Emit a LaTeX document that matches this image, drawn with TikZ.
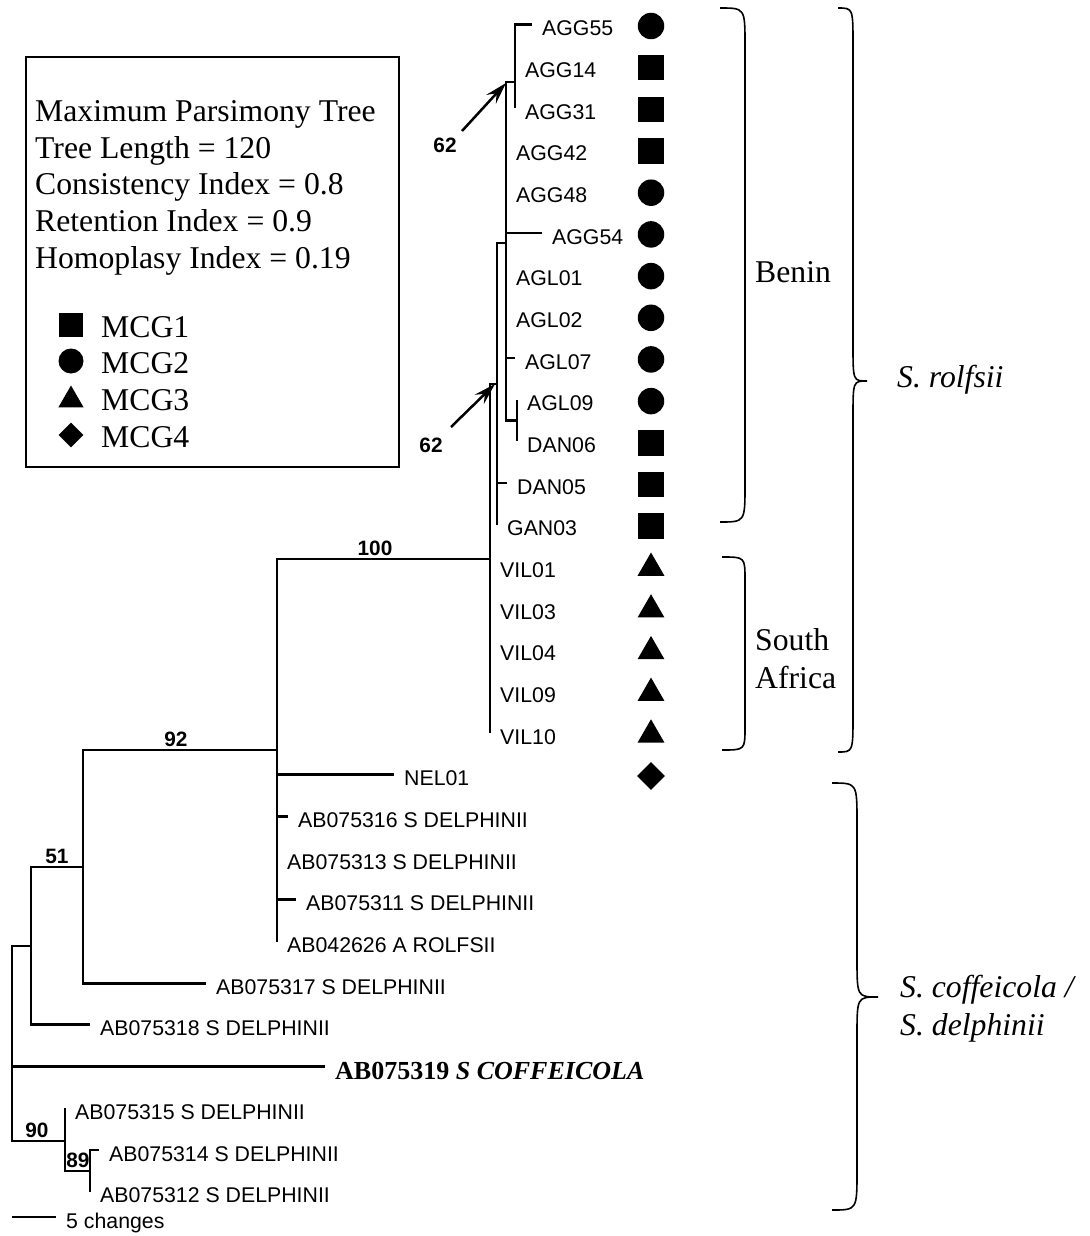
\documentclass[tikz,border=0pt]{standalone}
\usepackage{fontspec}
\setmainfont{Liberation Serif}
\setsansfont{Liberation Sans}
\usetikzlibrary{arrows.meta,shapes.geometric}

\newcommand{\tipfont}{\sffamily\fontsize{21.3}{25}\selectfont}
\newcommand{\suppfont}{\sffamily\bfseries\fontsize{20.8}{24}\selectfont}
\newcommand{\bigserif}{\rmfamily\fontsize{31.7}{38}\selectfont}

\tikzset{
  branch/.style={line width=2.8pt},
  tip/.style={anchor=west, inner xsep=10pt, inner ysep=0pt, font=\tipfont,
    text height=22.3pt, text depth=0pt},
  supp/.style={font=\suppfont, inner sep=0pt},
  pointer/.style={line width=2.5pt, -{Stealth[length=22pt,width=13pt,inset=8pt]}},
  mcgone/.style={rectangle, fill=black, minimum size=25.5pt, inner sep=0pt},
  mcgtwo/.style={circle, fill=black, minimum size=26.5pt, inner sep=0pt},
  mcgthree/.style={regular polygon, regular polygon sides=3, fill=black,
    minimum size=31pt, inner sep=0pt},
  mcgfour/.style={diamond, fill=black, minimum size=28pt, inner sep=0pt},
  region/.style={font=\bigserif, anchor=west, inner sep=0pt, align=left},
  curly/.style={line width=1.6pt},
}

\begin{document}
\begin{tikzpicture}[x=1pt, y=-1pt]
  \fill[white] (0,0) rectangle (1089,1236);
  \useasboundingbox (0,0) rectangle (1089,1236);

  % internal nodes of the tree
  \coordinate (n515) at (515,82);
  \coordinate (n506) at (506,243);
  \coordinate (n517) at (517,420.5);
  \coordinate (n497) at (497,384);
  \coordinate (n490) at (490,559);
  \coordinate (n92) at (277,750);
  \coordinate (nA) at (83,867);
  \coordinate (nB) at (31,946);
  \coordinate (root) at (12,1066.5);
  \coordinate (nC) at (65,1141);
  \coordinate (nD) at (90,1171);

  % tips
  \node[tip] (AGG55) at (532,24.5) {AGG55};
  \node[tip] (AGG14) at (515,66.2) {AGG14};
  \node[tip] (AGG31) at (515,107.9) {AGG31};
  \node[tip] (AGG42) at (506,149.5) {AGG42};
  \node[tip] (AGG48) at (506,191.2) {AGG48};
  \node[tip] (AGG54) at (542,232.9) {AGG54};
  \node[tip] (AGL01) at (506,274.6) {AGL01};
  \node[tip] (AGL02) at (506,316.3) {AGL02};
  \node[tip] (AGL07) at (515,357.9) {AGL07};
  \node[tip] (AGL09) at (517,399.6) {AGL09};
  \node[tip] (DAN06) at (517,441.3) {DAN06};
  \node[tip] (DAN05) at (507,483.0) {DAN05};
  \node[tip] (GAN03) at (497,524.7) {GAN03};
  \node[tip] (VIL01) at (490,566.3) {VIL01};
  \node[tip] (VIL03) at (490,608.0) {VIL03};
  \node[tip] (VIL04) at (490,649.7) {VIL04};
  \node[tip] (VIL09) at (490,691.4) {VIL09};
  \node[tip] (VIL10) at (490,733.1) {VIL10};
  \node[tip] (NEL01) at (394,774.7) {NEL01};
  \node[tip] (AB075316) at (288,816.4) {AB075316 S DELPHINII};
  \node[tip] (AB075313) at (277,858.1) {AB075313 S DELPHINII};
  \node[tip] (AB075311) at (296,899.8) {AB075311 S DELPHINII};
  \node[tip] (AB042626) at (277,941.5) {AB042626 A ROLFSII};
  \node[tip] (AB075317) at (206,983.1) {AB075317 S DELPHINII};
  \node[tip] (AB075318) at (90,1024.8) {AB075318 S DELPHINII};
  \node[tip, font=\rmfamily\bfseries\fontsize{26}{31}\selectfont, text height=25pt]
    (AB075319) at (325,1066.5) {AB075319 \textit{S COFFEICOLA}};
  \node[tip] (AB075315) at (65,1108.2) {AB075315 S DELPHINII};
  \node[tip] (AB075314) at (99,1149.9) {AB075314 S DELPHINII};
  \node[tip] (AB075312) at (90,1191.5) {AB075312 S DELPHINII};

  % branches
  \draw[branch] (n515) |- (AGG55.west) (n515) |- (AGG14.west) (n515) |- (AGG31.west);
  \draw[branch] (n506) |- (n515) (n506) |- (AGG42.west) (n506) |- (AGG48.west)
    (n506) |- (AGG54.west) (n506) |- (AGL01.west) (n506) |- (AGL02.west)
    (n506) |- (AGL07.west) (n506) |- (n517);
  \draw[branch] (n517) |- (AGL09.west) (n517) |- (DAN06.west);
  \draw[branch] (n497) |- (n506) (n497) |- (DAN05.west) (n497) |- (GAN03.west);
  \draw[branch] (n490) |- (n497) (n490) |- (VIL01.west) (n490) |- (VIL10.west);
  \draw[branch] (n92) |- (n490) (n92) |- (NEL01.west) (n92) |- (AB075316.west)
    (n92) |- (AB075311.west) (n92) |- (AB042626.west);
  \draw[branch] (nA) |- (n92) (nA) |- (AB075317.west);
  \draw[branch] (nB) |- (nA) (nB) |- (AB075318.west);
  \draw[branch] (root) |- (nB) (root) -- (AB075319.west) (root) |- (nC);
  \draw[branch] (nC) |- (AB075315.west) (nC) |- (nD);
  \draw[branch] (nD) |- (AB075314.west) (nD) |- (AB075312.west);

  % bootstrap values
  \node[supp, anchor=base] (b100) at (375,555) {100};
  \node[supp, anchor=base] (b92) at (176,746) {92};
  \node[supp, anchor=base] (b51) at (57,863) {51};
  \node[supp, anchor=base] (b90) at (37,1137) {90};
  \node[supp, anchor=base] (b89) at (78,1167) {89};
  \node[supp] (b62a) at (445,145) {62};
  \node[supp] (b62b) at (431,445) {62};
  \coordinate (p62a) at (462,131);
  \coordinate (q62a) at (506,83);
  \coordinate (p62b) at (451,427);
  \coordinate (q62b) at (495,384);
  \draw[pointer] (p62a) -- (q62a);
  \draw[pointer] (p62b) -- (q62b);

  % scale bar
  \coordinate (bar0) at (12,1217);
  \coordinate (bar1) at (56,1217);
  \draw[branch, line width=2.2pt] (bar0) -- (bar1);
  \node[tip] (changes) at (bar1) {5 changes};

  % MCG symbols
  \node[mcgtwo] (mAGG55) at (651,26) {};
  \node[mcgone] (mAGG14) at (651,67.7) {};
  \node[mcgone] (mAGG31) at (651,109.4) {};
  \node[mcgone] (mAGG42) at (651,151) {};
  \node[mcgtwo] (mAGG48) at (651,192.7) {};
  \node[mcgtwo] (mAGG54) at (651,234.4) {};
  \node[mcgtwo] (mAGL01) at (651,276.1) {};
  \node[mcgtwo] (mAGL02) at (651,317.8) {};
  \node[mcgtwo] (mAGL07) at (651,359.4) {};
  \node[mcgtwo] (mAGL09) at (651,401.1) {};
  \node[mcgone] (mDAN06) at (651,442.8) {};
  \node[mcgone] (mDAN05) at (651,484.5) {};
  \node[mcgone] (mGAN03) at (651,526.2) {};
  \node[mcgthree] (mVIL01) at (651,568) {};
  \node[mcgthree] (mVIL03) at (651,609.7) {};
  \node[mcgthree] (mVIL04) at (651,651.4) {};
  \node[mcgthree] (mVIL09) at (651,693.1) {};
  \node[mcgthree] (mVIL10) at (651,734.8) {};
  \node[mcgfour] (mNEL01) at (651,776) {};

  % legend
  \draw[line width=1.8pt] (26,57) rectangle (399,467);
  \node[font=\bigserif, anchor=base west, inner sep=0pt] (stats1) at (35,121.7) {Maximum Parsimony Tree};
  \node[font=\bigserif, anchor=base west, inner sep=0pt] (stats2) at (35,158.3) {Tree Length = 120};
  \node[font=\bigserif, anchor=base west, inner sep=0pt] (stats3) at (35,194.9) {Consistency Index = 0.8};
  \node[font=\bigserif, anchor=base west, inner sep=0pt] (stats4) at (35,231.5) {Retention Index = 0.9};
  \node[font=\bigserif, anchor=base west, inner sep=0pt] (stats5) at (35,268.1) {Homoplasy Index = 0.19};
  \node[mcgone, minimum size=24pt] (kone) at (71,325) {};
  \node[mcgtwo, minimum size=25pt] (ktwo) at (71,361) {};
  \node[mcgthree, minimum size=29pt] (kthree) at (71,400) {};
  \node[mcgfour, minimum size=25pt] (kfour) at (71,435) {};
  \node[font=\bigserif, anchor=base west, inner sep=0pt] (lone) at (101,337) {MCG1};
  \node[font=\bigserif, anchor=base west, inner sep=0pt] (ltwo) at (101,373) {MCG2};
  \node[font=\bigserif, anchor=base west, inner sep=0pt] (lthree) at (101,410) {MCG3};
  \node[font=\bigserif, anchor=base west, inner sep=0pt] (lfour) at (101,447) {MCG4};

  % braces and regions
  \draw[curly] (720,8) .. controls (745,8) .. (745,45) -- (745,485)
    .. controls (745,522) .. (720,522);
  \draw[curly] (722,557) .. controls (745,557) .. (745,580) -- (745,727)
    .. controls (745,750) .. (722,750);
  \draw[curly] (838,8) .. controls (853,8) .. (853,45) -- (853,345)
    .. controls (853,381) .. (867,381) .. controls (853,381) .. (853,417)
    -- (853,715) .. controls (853,752) .. (838,752);
  \draw[curly] (832,783) .. controls (857,783) .. (857,822) -- (857,958)
    .. controls (857,997) .. (878,997) .. controls (857,997) .. (857,1036)
    -- (857,1171) .. controls (857,1210) .. (832,1210);
  \node[region] (benin) at (755,272) {Benin};
  \node[region] (safrica) at (755,659) {South\\Africa};
  \node[region] (rolfsii) at (897,380) {\textit{S. rolfsii}};
  \node[region] (coffeicola) at (900,1009) {\textit{S. coffeicola /}\\\textit{S. delphinii}};
\end{tikzpicture}
\end{document}
